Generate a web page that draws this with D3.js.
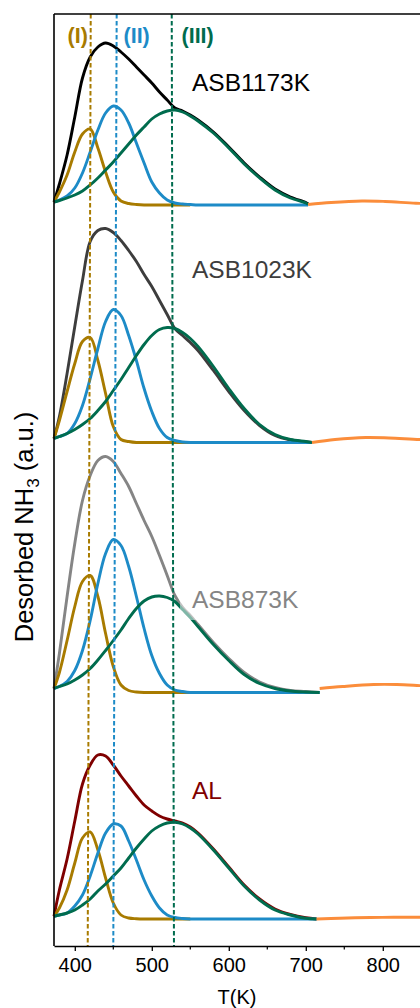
<!DOCTYPE html>
<html><head><meta charset="utf-8">
<script src="https://cdn.jsdelivr.net/npm/d3@7/dist/d3.min.js"></script>
<style>html,body{margin:0;padding:0;background:#fff;overflow:hidden}svg{display:block;font-family:"Liberation Sans",Arial,sans-serif}</style>
</head><body><svg id="c" width="420" height="1008"></svg>
<script>
// ---- data (temperature grid in K, desorbed NH3 in a.u.) ----
const gridT = [373,380,390,400,410,420,430,440,450,460,470,480,490,500,510,520,530,540,550,560,580,600,620,640,660,680,700];
const panelNames = ["ASB1173K","ASB1023K","ASB873K","AL"];
const panelOffset = [741, 503.5, 253.5, 27];
const endT = [703, 708, 718, 714];

const p1Sum   = [3,21,50,88,127,148,158,162,159,153,146,138,130,122,113,105,97,94,90,85,73,58,42,28,16,8,2.5,1];
const p1Gold  = [3,13,30,53,71,76,57,33,13,4,1.5,0.5,0,0,0,0,0,0,0];
const p1Blue  = [3,5,9,17,32,53,75,92,99,95,82,62,42,23,12,5,2,1,0.5,0,0,0,0,0,0,0,0,0];
const p1Green = [3,4.5,7,10,14,20,27,35,43,52,61,70,78,86,91,94,95,93,89,84,72,57,41,27,15,7,2,0.5];

const p2Sum   = [4,26,69,116,162,201,212,214,210,202,192,181,168,156,142,128,114,107,100,92,72,51,32,17,7,2.5,0.7,0];
const p2Gold  = [4,22,51,79,101,105,82,49,16,3,1,0,0,0,0,0,0,0,0];
const p2Blue  = [4,6,9,19,37,64,94,121,133,127,107,82,54,31,14,5,2,0.5,0,0,0,0,0,0,0,0,0,0];
const p2Green = [4,6,9,13,18,24,32,41,52,63,75,87,98,107,113,115,114,110,104,96,76,54,34,18,8,3,1,0];

const p3Sum   = [4,39,96,149,192,217,232,236,231,219,206,189,172,156,137,117,97,85,77,68,50,34,20,10.5,5,2,1,0];
const p3Gold  = [4,20,52,86,111,117,96,59,26,7.5,2,0.5,0,0,0,0,0,0,0];
const p3Blue  = [4,6,11,22,42,72,109,139,153,147,126,96,64,37,19,7.5,2.5,1,0,0,0,0,0,0,0,0,0,0];
const p3Green = [4,6,8.5,12.5,17.5,24,32.5,42,52,62.5,74,84,91.5,95.5,96.5,95,91,83,75,66,48,32,18,9,4,1.5,0.5,0];

const p4Sum   = [2.7,29,60,98,135,154,164,163,154,143,133,123,114,108,103,100,98,96,92,86,70,52,34,20,10,4.5,1.2,0];
const p4Gold  = [2.7,11,29,56,81,87,69,41,16,4,1,0.3,0,0,0,0,0,0,0];
const p4Blue  = [2.7,4,6,13,24,43,66,86,95,93,78,59,39,23,11,4,1.5,0.5,0,0,0,0,0,0,0,0,0,0];
const p4Green = [2.7,4,6,9,14,20,28,35,43,51,61,71,80,88,93,96,96.7,95,91,85,69,51,33,19,9,4,0.7,0];

const tailOffsetT = [0, 30, 70, 100, 140, 170]; // relative to each panel's end temperature
const p1Tail = [0.5,2.5,4,3.5,1.8,1.2];
const p2Tail = [0,3,5,4.5,3,2.5];
const p3Tail = [4,6,8,8,6.5,6];
const p4Tail = [0,0.8,1.5,1.7,1.7,1.7];

const markerTopT = [420.7, 454.4, 525.9];
const markerBottomT = [416.8, 450.0, 528.8];
const markerLabels = ["(I)","(II)","(III)"];
const xTicks = [400,500,600,700,800];
const xMinorTicks = [450,550,650,750,850];

// ---- styles ----
const sumColors = ["#000000","#3d3d3d","#858585","#7f0000"];
const compColors = ["#a87b00","#1d8bc7","#006c4e"];
const tailColor = "#fb8d3b";

const panels = [
  {sum:p1Sum, comps:[p1Gold,p1Blue,p1Green], tail:p1Tail},
  {sum:p2Sum, comps:[p2Gold,p2Blue,p2Green], tail:p2Tail},
  {sum:p3Sum, comps:[p3Gold,p3Blue,p3Green], tail:p3Tail},
  {sum:p4Sum, comps:[p4Gold,p4Blue,p4Green], tail:p4Tail}
];

const svg = d3.select("#c");
const x = d3.scaleLinear().domain([373, 873]).range([54, 439]);
const y = d3.scaleLinear().domain([0, 932]).range([946, 14]);

const line = d3.line().x(d => x(d[0])).y(d => y(d[1])).curve(d3.curveCatmullRom.alpha(0.5));

panels.forEach((p, i) => {
  const off = panelOffset[i];
  const tAll = gridT.concat([endT[i]]);
  const pts = arr => arr.map((v, k) => [tAll[k], v + off]);
  const g = svg.append("g");
  g.append("path").attr("d", line(pts(p.sum))).attr("fill","none")
    .attr("stroke", sumColors[i]).attr("stroke-width", 2.9);
  p.comps.forEach((c, j) => {
    g.append("path").attr("d", line(pts(c))).attr("fill","none")
      .attr("stroke", compColors[j]).attr("stroke-width", 2.9);
  });
  const tailPts = p.tail.map((v, k) => [endT[i] + tailOffsetT[k], v + off]);
  g.append("path").attr("d", line(tailPts)).attr("fill","none")
    .attr("stroke", tailColor).attr("stroke-width", 2.9);
});

// semi-transparent label box over ASB873K region
svg.append("rect").attr("x", 180).attr("y", 584).attr("width", 125).attr("height", 36)
  .attr("fill", "#fff").attr("opacity", 0.5);

// marker dashed lines
markerTopT.forEach((t, i) => {
  svg.append("line")
    .attr("x1", x(t)).attr("y1", y(932))
    .attr("x2", x(markerBottomT[i])).attr("y2", y(0))
    .attr("stroke", compColors[i]).attr("stroke-width", 2)
    .attr("stroke-dasharray", "4.5,2.5");
});

// frame
svg.append("line").attr("x1", 54).attr("x2", 54).attr("y1", 14).attr("y2", 946)
  .attr("stroke", "#000").attr("stroke-width", 1.6);
svg.append("line").attr("x1", 54).attr("x2", 440).attr("y1", 14).attr("y2", 14)
  .attr("stroke", "#000").attr("stroke-width", 1.6);

// x axis
const ax = svg.append("g").attr("transform", "translate(0,946)")
  .call(d3.axisBottom(x).tickValues(xTicks).tickSize(5).tickSizeOuter(0).tickPadding(7).tickFormat(d3.format("d")));
ax.select(".domain").attr("stroke-width", 1.6);
ax.selectAll(".tick line").attr("stroke-width", 1.3);
ax.selectAll("text").attr("font-size", 20).attr("font-family", '"Liberation Sans",Arial,sans-serif').attr("fill", "#000");
svg.append("g").selectAll("line").data(xMinorTicks).join("line")
  .attr("x1", d => x(d)).attr("x2", d => x(d)).attr("y1", 946).attr("y2", 949.5)
  .attr("stroke", "#000").attr("stroke-width", 1.2);

// marker labels
const labelX = [67.5, 123.5, 181.5];
markerLabels.forEach((t, i) => {
  svg.append("text").attr("x", labelX[i]).attr("y", 43).text(t)
    .attr("font-size", 21.5).attr("font-weight", "bold").attr("fill", compColors[i]);
});

// panel labels
const nameBaseY = [91, 278, 608, 799];
panelNames.forEach((n, i) => {
  svg.append("text").attr("x", 192).attr("y", nameBaseY[i]).text(n)
    .attr("font-size", 24.5).attr("fill", sumColors[i]);
});

// axis titles
svg.append("text").attr("x", 237).attr("y", 1004).attr("text-anchor", "middle")
  .attr("font-size", 20).text("T(K)");
const yt = svg.append("text").attr("transform", "translate(33,527) rotate(-90)")
  .attr("text-anchor", "middle").attr("font-size", 25.5);
yt.append("tspan").text("Desorbed NH");
yt.append("tspan").text("3").attr("font-size", 17).attr("dy", 6);
yt.append("tspan").text(" (a.u.)").attr("dy", -6);
</script></body></html>
